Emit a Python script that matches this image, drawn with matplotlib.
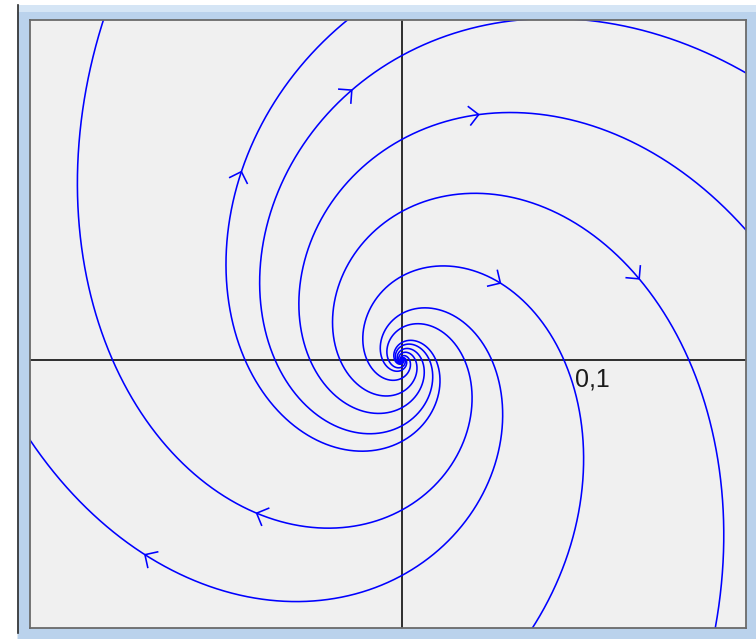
import numpy as np
import matplotlib
matplotlib.use("Agg")
import matplotlib.pyplot as plt
from matplotlib.patches import Rectangle, FancyBboxPatch
from matplotlib.lines import Line2D

# linear system  x' = a*x + b*y ,  y' = -c*x + a*y   (unstable focus, turning clockwise)
a_coef = 0.488
b_coef = 0.897
c_coef = 1.115

# each trajectory is given by the point where it crosses the negative x axis
start_x = [-0.0071, -0.0102, -0.0184, -0.0326, -0.0484, -0.0668, -0.0826]
start_y = [0.0, 0.0, 0.0, 0.0, 0.0, 0.0, 0.0]

# rough place of the arrow on each trajectory
arrow_x = [-0.0758, -0.1353, 0.0495, 0.1242, 0.0400, -0.0274, -0.0837]
arrow_y = [-0.0789, -0.1026, 0.0368, 0.0421, 0.1316, 0.1432, 0.0989]

tick_text = "0,1"
tick_value = 0.1

W, H = 756, 639
fig = plt.figure(figsize=(W / 100, H / 100), dpi=100)
fig.patch.set_facecolor("white")

# window frame
frame = FancyBboxPatch((17.5 / W, -10 / H), (W - 17.5 + 10) / W, (H - 5 + 10) / H,
                       boxstyle="round,pad=0,rounding_size=0.012",
                       transform=fig.transFigure, facecolor="#bad2ec",
                       edgecolor="none", zorder=0)
fig.add_artist(frame)
fig.add_artist(Rectangle((17.5 / W, (H - 12) / H), (W - 17.5) / W, 7 / H,
                         transform=fig.transFigure, facecolor="#d5e5f5",
                         edgecolor="none", zorder=0))
fig.add_artist(Line2D([17.5 / W, 17.5 / W], [0.01, (H - 5) / H],
                      transform=fig.transFigure, color="#2a2a2a", lw=1.2))

ax = fig.add_axes([30 / W, 1 - 628 / H, 716 / W, 608 / H])
ax.set_facecolor("#f0f0f0")
scale = 1900.0  # pixels per unit
ax.set_xlim(-372 / scale, 344 / scale)
ax.set_ylim(-268 / scale, 340 / scale)
ax.set_xticks([])
ax.set_yticks([])
for sp in ax.spines.values():
    sp.set_color("#6a6a6a")
    sp.set_linewidth(1.3)

ax.axhline(0, color="#1e1e1e", lw=1.3, zorder=1)
ax.axvline(0, color="#1e1e1e", lw=1.3, zorder=1)

omega = np.sqrt(b_coef * c_coef)
t = np.linspace(-25, 10, 24000)
ex = np.exp(a_coef * t)
cs, sn = np.cos(omega * t), np.sin(omega * t)

head = 13 / scale
for x0, y0, axp, ayp in zip(start_x, start_y, arrow_x, arrow_y):
    xs = ex * (x0 * cs + (b_coef / omega) * y0 * sn)
    ys = ex * (y0 * cs - (c_coef / omega) * x0 * sn)
    ax.plot(xs, ys, color="#0000ff", lw=1.15, zorder=2)

    i = np.argmin((xs - axp) ** 2 + (ys - ayp) ** 2)
    px, py = xs[i], ys[i]
    vx = a_coef * px + b_coef * py
    vy = -c_coef * px + a_coef * py
    ang = np.arctan2(vy, vx)
    hx = [px + head * np.cos(ang + np.pi - np.pi / 4), px,
          px + head * np.cos(ang + np.pi + np.pi / 4)]
    hy = [py + head * np.sin(ang + np.pi - np.pi / 4), py,
          py + head * np.sin(ang + np.pi + np.pi / 4)]
    ax.plot(hx, hy, color="#0000ff", lw=1.15, zorder=2)

ax.text(tick_value, -27 / scale, tick_text, ha="center", va="baseline",
        fontsize=18, family="Liberation Sans", color="#1a1a1a", zorder=3)

fig.savefig("out.png", dpi=100, facecolor=fig.get_facecolor())
